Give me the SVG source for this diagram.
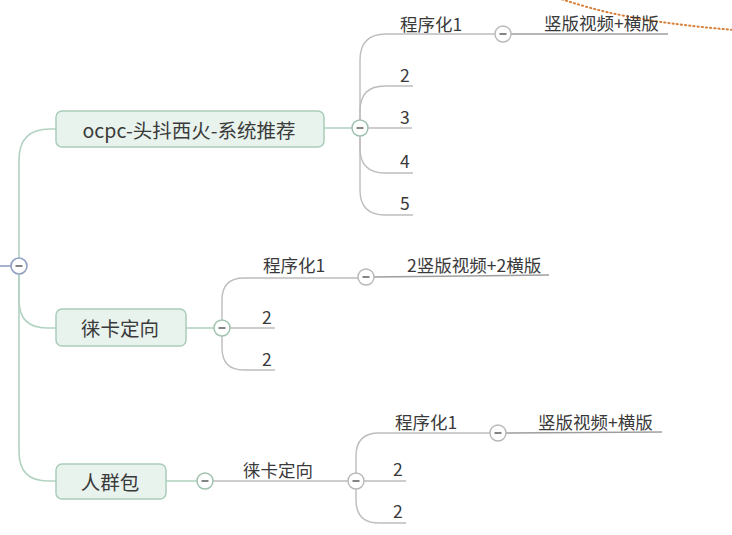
<svg xmlns="http://www.w3.org/2000/svg" width="732" height="535" viewBox="0 0 732 535">
<style>
.bg{fill:#ffffff}
.main{fill:none;stroke:#b3d3c2;stroke-width:1.6}
.sub{fill:none;stroke:#bdbdbd;stroke-width:1.4}
.leaf{fill:none;stroke:#9e9e9e;stroke-width:1.4}
.box{fill:#e8f3ed;stroke:#a9cdb9;stroke-width:1.5}
.t1{font-family:"Noto Sans CJK SC","Liberation Sans",sans-serif;font-size:19.5px;fill:#3a3a3a;dominant-baseline:central;text-anchor:middle}
.t2{font-family:"Noto Sans CJK SC","Liberation Sans",sans-serif;font-size:17.5px;fill:#3a3a3a;dominant-baseline:central}
.cg{fill:#ffffff;stroke:#9fc2ae;stroke-width:1.5}
.cs{fill:#ffffff;stroke:#b8b8b8;stroke-width:1.4}
.cr{fill:#ffffff;stroke:#8fa0c2;stroke-width:1.6}
.minus{stroke:#666;stroke-width:1.6}
.dots{fill:none;stroke:#d9803a;stroke-width:2;stroke-dasharray:1.2 3;stroke-linecap:round}
</style>
<defs>
<g id="mn"><line class="minus" x1="-3.5" y1="0" x2="3.5" y2="0"/></g>
</defs>
<rect class="bg" x="0" y="0" width="732" height="535"/>
<g id="connectors">
<line x1="0" y1="266" x2="11" y2="266" stroke="#8fa0c2" stroke-width="1.6"/>
<path class="main" d="M19,258 V160 Q19,129 50,129 H56"/>
<path class="main" d="M19,274 V300 Q19,328 47,328 H56"/>
<path class="main" d="M19,274 V452 Q19,481 48,481 H56"/>
<line class="main" x1="324" y1="128" x2="352" y2="128"/>
<path class="sub" d="M360,120 V60 Q360,34 386,34 H495"/>
<line class="leaf" x1="511" y1="34" x2="668" y2="34"/>
<path class="sub" d="M360,120 V111 Q360,86 385,86 H413"/>
<line class="sub" x1="368" y1="128" x2="412" y2="128"/>
<path class="sub" d="M360,136 V148 Q360,173 385,173 H413"/>
<path class="sub" d="M360,136 V190 Q360,215 385,215 H413"/>
<line class="main" x1="186" y1="328" x2="214" y2="328"/>
<path class="sub" d="M222,320 V300 Q222,278 244,278 H358"/>
<line class="leaf" x1="373" y1="277" x2="549" y2="275"/>
<line class="sub" x1="230" y1="328" x2="275" y2="328"/>
<path class="sub" d="M222,336 V348 Q222,370 244,370 H275"/>
<line class="main" x1="166" y1="481" x2="197" y2="481"/>
<line class="sub" x1="213" y1="481" x2="348" y2="481"/>
<path class="sub" d="M356,473 V456 Q356,433 379,433 H490"/>
<line class="leaf" x1="506" y1="433" x2="662" y2="432"/>
<line class="sub" x1="364" y1="481" x2="406" y2="481"/>
<path class="sub" d="M356,489 V500 Q356,523 379,523 H406"/>
</g>
<path class="dots" d="M558,-2 C600,12 640,22 734,30"/>
<g id="root-toggle"><circle class="cr" cx="19" cy="266" r="8"/><use href="#mn" x="19" y="266"/></g>
<g id="node1">
<rect class="box" x="56" y="111" width="268" height="36" rx="6"/>
<text class="t1" x="189" y="129">ocpc-头抖西火-系统推荐</text>
<circle class="cg" cx="360" cy="128" r="8"/><use href="#mn" x="360" y="128"/>
</g>
<g id="node1-c1"><text class="t2" x="400" y="23">程序化1</text><circle class="cs" cx="503" cy="34" r="8"/><use href="#mn" x="503" y="34"/></g>
<g id="node1-c1-a"><text class="t2" x="544" y="22">竖版视频+横版</text></g>
<g id="node1-c2"><text class="t2" x="400" y="74">2</text></g>
<g id="node1-c3"><text class="t2" x="400" y="116">3</text></g>
<g id="node1-c4"><text class="t2" x="400" y="160">4</text></g>
<g id="node1-c5"><text class="t2" x="400" y="202">5</text></g>
<g id="node2">
<rect class="box" x="56" y="309" width="130" height="37" rx="6"/>
<text class="t1" x="120" y="327">徕卡定向</text>
<circle class="cg" cx="222" cy="328" r="8"/><use href="#mn" x="222" y="328"/>
</g>
<g id="node2-c1"><text class="t2" x="263" y="264">程序化1</text><circle class="cs" cx="366" cy="277" r="8"/><use href="#mn" x="366" y="277"/></g>
<g id="node2-c1-a"><text class="t2" x="407" y="264">2竖版视频+2横版</text></g>
<g id="node2-c2"><text class="t2" x="262" y="316">2</text></g>
<g id="node2-c3"><text class="t2" x="262" y="358">2</text></g>
<g id="node3">
<rect class="box" x="56" y="464" width="110" height="35" rx="6"/>
<text class="t1" x="110" y="481">人群包</text>
<circle class="cg" cx="205" cy="481" r="8"/><use href="#mn" x="205" y="481"/>
</g>
<g id="node3-c1"><text class="t2" x="243" y="469">徕卡定向</text><circle class="cs" cx="356" cy="481" r="8"/><use href="#mn" x="356" y="481"/></g>
<g id="node3-c1-a"><text class="t2" x="395" y="421">程序化1</text><circle class="cs" cx="498" cy="433" r="8"/><use href="#mn" x="498" y="433"/></g>
<g id="node3-c1-a-x"><text class="t2" x="538" y="421">竖版视频+横版</text></g>
<g id="node3-c1-b"><text class="t2" x="393" y="468">2</text></g>
<g id="node3-c1-c"><text class="t2" x="393" y="510">2</text></g>
</svg>
